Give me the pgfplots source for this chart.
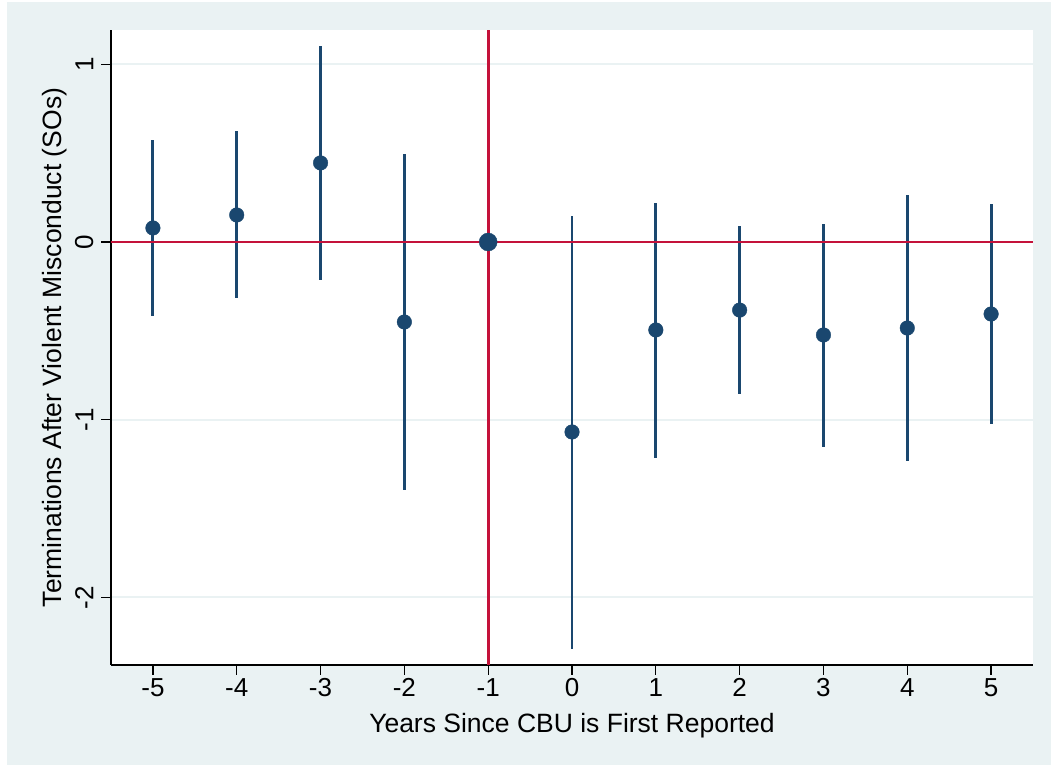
\documentclass[border=0pt]{standalone}
\usepackage{pgfplots}
\pgfplotsset{compat=1.18}
\usepackage{pgfplotstable}
\usepackage{fontspec}
\setmainfont{Liberation Sans}
\definecolor{bgc}{HTML}{EAF2F3}
\definecolor{navy}{HTML}{1A476F}
\definecolor{redl}{HTML}{C4123A}

\pgfplotstableread{
x y lo hi
-5 0.079 -0.416 0.574
-4 0.152 -0.315 0.625
-3 0.445 -0.214 1.103
-2 -0.450 -1.396 0.495
0 -1.069 -2.290 0.146
1 -0.495 -1.216 0.219
2 -0.383 -0.855 0.090
3 -0.523 -1.154 0.101
4 -0.484 -1.232 0.264
5 -0.405 -1.024 0.214
}\ci

\begin{document}
\begin{tikzpicture}[x=1bp,y=1bp]
\useasboundingbox (0,0) rectangle (1051,765);
\fill[white] (0,0) rectangle (1051,765);
\fill[bgc] (7,0) rectangle (1051,763);
\begin{axis}[
  at={(111bp,100bp)}, anchor=south west,
  scale only axis, width=922bp, height=635bp,
  xmin=-5.5, xmax=5.5, ymin=-2.38, ymax=1.193,
  axis x line*=bottom, axis y line*=left,
  axis line style={-, black, line width=1.6bp},
  axis background/.style={fill=white},
  xtick={-5,...,5}, ytick={-2,-1,0,1},
  ymajorgrids, grid style={bgc, line width=2bp},
  tick align=outside, major tick length=10bp,
  tick style={black, line width=1.3bp},
  /pgf/number format/assume math mode=true,
  font=\fontsize{26.5bp}{31bp}\selectfont,
  tick label style={font=\fontsize{26bp}{31bp}\selectfont},
  yticklabel style={rotate=90, anchor=south, yshift=4bp},
  xlabel={Years Since CBU is First Reported},
  ylabel={Terminations After Violent Misconduct (SOs)},
  xlabel style={at={(axis description cs:0.5,-0.107)}, anchor=base},
  ylabel style={at={(axis description cs:-0.0607,0.5)}, anchor=center},
  clip=false,
]
\addplot[draw=none, mark=none, forget plot,
  error bars/.cd, y dir=both, y explicit, error mark=none,
  error bar style={draw=navy, line width=2.9bp}]
  table[x=x, y=y, y error plus expr=\thisrow{hi}-\thisrow{y},
        y error minus expr=\thisrow{y}-\thisrow{lo}] {\ci};
\addplot[redl, line width=2.7bp, mark=none] coordinates {(-5.5,0) (5.5,0)};
\addplot[redl, line width=2.7bp, mark=none] coordinates {(-1,-2.38) (-1,1.193)};
\addplot[only marks, mark=*, mark size=7.3bp, navy, mark options={fill=navy, draw=navy}]
  table[x=x, y=y] {\ci};
\addplot[only marks, mark=*, mark size=9bp, navy, mark options={fill=navy, draw=navy}]
  coordinates {(-1,0)};
\end{axis}
\end{tikzpicture}
\end{document}
